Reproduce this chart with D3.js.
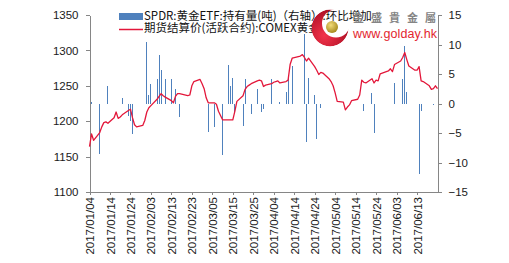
<!DOCTYPE html>
<html>
<head>
<meta charset="utf-8">
<script src="https://d3js.org/d3.v7.min.js"></script>
<style>
  body { margin: 0; background: #fff; }
  svg { display: block; }
  .axis text { font-family: "Liberation Sans", Arial, sans-serif; font-size: 11.5px; fill: #1a1a1a; }
  .axis path, .axis line { stroke: #868686; shape-rendering: crispEdges; }
  .legend text { font-family: "Noto Sans CJK SC", sans-serif; font-size: 11.5px; fill: #111; }
</style>
</head>
<body>
<script>
// gold futures settlement (left axis), trading days
var priceDates = [
  "2017/01/04","2017/01/05","2017/01/06","2017/01/09","2017/01/10","2017/01/11","2017/01/12","2017/01/13",
  "2017/01/16","2017/01/17","2017/01/18","2017/01/19","2017/01/20","2017/01/23","2017/01/24","2017/01/25",
  "2017/01/26","2017/01/27","2017/01/30","2017/01/31",
  "2017/02/01","2017/02/02","2017/02/03","2017/02/06","2017/02/07","2017/02/08","2017/02/09","2017/02/10",
  "2017/02/13","2017/02/14","2017/02/15","2017/02/16","2017/02/17","2017/02/21","2017/02/22","2017/02/23",
  "2017/02/24","2017/02/27","2017/02/28",
  "2017/03/01","2017/03/02","2017/03/03","2017/03/06","2017/03/07","2017/03/08","2017/03/09","2017/03/10",
  "2017/03/13","2017/03/14","2017/03/15","2017/03/16","2017/03/17","2017/03/20","2017/03/21","2017/03/22",
  "2017/03/23","2017/03/24","2017/03/27","2017/03/28","2017/03/29","2017/03/30","2017/03/31",
  "2017/04/03","2017/04/04","2017/04/05","2017/04/06","2017/04/07","2017/04/10","2017/04/11","2017/04/12",
  "2017/04/13","2017/04/17","2017/04/18","2017/04/19","2017/04/20","2017/04/21","2017/04/24","2017/04/25",
  "2017/04/26","2017/04/27","2017/04/28",
  "2017/05/01","2017/05/02","2017/05/03","2017/05/04","2017/05/05","2017/05/08","2017/05/09","2017/05/10",
  "2017/05/11","2017/05/12","2017/05/15","2017/05/16","2017/05/17","2017/05/18","2017/05/19","2017/05/22",
  "2017/05/23","2017/05/24","2017/05/25","2017/05/26","2017/05/30","2017/05/31",
  "2017/06/01","2017/06/02","2017/06/05","2017/06/06","2017/06/07","2017/06/08","2017/06/09","2017/06/12",
  "2017/06/13","2017/06/14","2017/06/15","2017/06/16","2017/06/19","2017/06/20","2017/06/21","2017/06/22",
  "2017/06/23"
];
var priceValues = [
  1164,1182,1173,1184,1192,1198,1199,1197,
  1205,1213,1204,1206,1209,1215,1217,1205,
  1195,1192,1194,1201,
  1213,1219,1222,1231,1235,1239,1236,1234,
  1229,1226,1235,1239,1239,1236,1237,1250,
  1256,1259,1253,
  1246,1233,1226,1226,1224,1214,1208,1202,
  1202,1202,1202,1214,1228,1236,1245,1249,
  1251,1253,1257,1258,1257,1249,1251,
  1253,1255,1256,1257,1254,1256,1258,1280,
  1289,1292,1294,1290,1285,1289,1277,1272,
  1266,1269,1268,
  1260,1256,1250,1240,1228,1227,1216,1220,
  1223,1229,1231,1237,1258,1255,1254,1260,
  1254,1258,1257,1267,1271,1274,
  1270,1280,1285,1290,1297,1287,1278,1272,
  1272,1277,1257,1256,1250,1245,1246,1250,
  1246
];

// SPDR holdings day-on-day change, tonnes (right axis)
var barDates = [
  "2017/01/05","2017/01/09","2017/01/13","2017/01/20","2017/01/23","2017/01/24","2017/01/25",
  "2017/02/01","2017/02/02","2017/02/03","2017/02/06","2017/02/07","2017/02/08","2017/02/10",
  "2017/02/13","2017/02/15","2017/02/17",
  "2017/03/03","2017/03/06","2017/03/10","2017/03/13","2017/03/14","2017/03/15","2017/03/16",
  "2017/03/20","2017/03/21","2017/03/24","2017/03/27","2017/03/29","2017/03/30",
  "2017/04/03","2017/04/07","2017/04/10","2017/04/11","2017/04/13","2017/04/19","2017/04/20",
  "2017/04/21","2017/04/24","2017/04/25","2017/04/27",
  "2017/05/18","2017/05/22","2017/05/23",
  "2017/06/02","2017/06/06","2017/06/07","2017/06/08","2017/06/14","2017/06/15","2017/06/21"
];
var barValues = [
  0.3,-8.5,2.9,0.9,-2.2,-3.0,-5.1,
  10.5,1.4,3.3,4.1,8.2,5.6,4.1,
  4.1,2.5,-2.3,
  -4.8,-3.9,-8.7,6.6,3.0,4.3,-1.6,
  -3.8,4.1,-1.7,2.5,-1.5,-1.0,
  4.2,0.2,2.0,4.3,6.4,11.8,-6.6,
  4.3,1.4,-6.1,-0.8,
  -1.2,1.7,-5.0,
  3.4,4.1,9.8,1.9,-12.0,-1.3,-0.3
];

var leftTicks = [1100, 1150, 1200, 1250, 1300, 1350];
var rightTicks = [-15, -10, -5, 0, 5, 10, 15];
var dateTicks = ["2017/01/04","2017/01/14","2017/01/24","2017/02/03","2017/02/13","2017/02/23",
                 "2017/03/05","2017/03/15","2017/03/25","2017/04/04","2017/04/14","2017/04/24",
                 "2017/05/04","2017/05/14","2017/05/24","2017/06/03","2017/06/13"];
var dateRange = ["2017/01/04", "2017/06/23"];
var seriesNames = ["SPDR:黄金ETF:持有量(吨)（右轴）:环比增加", "期货结算价(活跃合约):COMEX黄金"];

var width = 509, height = 263;
var plotLeft = 89.5, plotRight = 437.5, plotTop = 15, plotBottom = 192;
var barColor = "#4f81bd", lineColor = "#e3173a";

var parse = d3.utcParse("%Y/%m/%d");

var svg = d3.select("body").append("svg")
    .attr("width", width)
    .attr("height", height);

svg.append("rect").attr("width", width).attr("height", height).attr("fill", "#fff");

var x = d3.scaleUtc().domain(dateRange.map(parse)).range([plotLeft, plotRight]);
var yL = d3.scaleLinear().domain([1100, 1350]).range([plotBottom, plotTop]);
var yR = d3.scaleLinear().domain([-15, 15]).range([plotBottom, plotTop]);

/* bars first, line goes over them */
var bars = barDates.map(function (d, i) { return { date: parse(d), v: barValues[i] }; });
svg.append("g").selectAll("rect")
  .data(bars)
  .enter().append("rect")
    .attr("x", function (d) { return Math.round(x(d.date) - 0.5); })
    .attr("width", 1)
    .attr("y", function (d) { return yR(Math.max(0, d.v)); })
    .attr("height", function (d) { return Math.abs(yR(d.v) - yR(0)); })
    .attr("fill", barColor)
    .attr("shape-rendering", "crispEdges");

/* axes */
svg.append("g").attr("class", "axis")
    .attr("transform", "translate(" + plotLeft + ",0)")
    .call(d3.axisLeft(yL).tickValues(leftTicks).tickSize(4).tickPadding(7).tickSizeOuter(0)
      .tickFormat(d3.format("d")));

svg.append("g").attr("class", "axis")
    .attr("transform", "translate(" + plotRight + ",0)")
    .call(d3.axisRight(yR).tickValues(rightTicks).tickSize(4).tickPadding(7).tickSizeOuter(0)
      .tickFormat(d3.format("d")));

var gB = svg.append("g").attr("class", "axis")
    .attr("transform", "translate(0," + plotBottom + ")")
    .call(d3.axisBottom(x).tickValues(dateTicks.map(parse)).tickSize(3).tickSizeOuter(0)
      .tickFormat(d3.utcFormat("%Y/%m/%d")));

gB.selectAll("text")
    .attr("transform", "rotate(-90)")
    .attr("x", -5)
    .attr("y", 0)
    .attr("dy", "0.35em")
    .style("text-anchor", "end");

/* price line */
var prices = priceDates.map(function (d, i) { return { date: parse(d), v: priceValues[i] }; });
var line = d3.line()
    .x(function (d) { return x(d.date); })
    .y(function (d) { return yL(d.v); });

svg.append("path")
    .datum(prices)
    .attr("d", line)
    .attr("fill", "none")
    .attr("stroke", lineColor)
    .attr("stroke-width", 1.3)
    .attr("stroke-linejoin", "round");

/* legend */
var lg = svg.append("g").attr("class", "legend");
lg.append("rect").attr("x", 119).attr("y", 13).attr("width", 24).attr("height", 7).attr("fill", barColor);
lg.append("text").attr("x", 144).attr("y", 15.5).attr("dy", "0.36em").text(seriesNames[0]);
lg.append("line").attr("x1", 119).attr("x2", 143).attr("y1", 29.5).attr("y2", 29.5)
    .attr("stroke", lineColor).attr("stroke-width", 1.5);
lg.append("text").attr("x", 144).attr("y", 27.5).attr("dy", "0.36em").text(seriesNames[1]);

/* watermark logo */
var defs = svg.append("defs");
var rg = defs.append("radialGradient").attr("id", "redg").attr("cx", "35%").attr("cy", "70%").attr("r", "75%");
rg.append("stop").attr("offset", "0%").attr("stop-color", "#f2344a");
rg.append("stop").attr("offset", "100%").attr("stop-color", "#a80c22");
var gg = defs.append("radialGradient").attr("id", "goldg").attr("cx", "40%").attr("cy", "35%").attr("r", "70%");
gg.append("stop").attr("offset", "0%").attr("stop-color", "#f3dc7a");
gg.append("stop").attr("offset", "100%").attr("stop-color", "#a08418");
var mask = defs.append("mask").attr("id", "cres")
    .attr("maskUnits", "userSpaceOnUse").attr("x", 300).attr("y", 0).attr("width", 60).attr("height", 60);
mask.append("circle").attr("cx", 330).attr("cy", 28).attr("r", 18.5).attr("fill", "#fff");
mask.append("circle").attr("cx", 336).attr("cy", 23.5).attr("r", 14).attr("fill", "#000");

var logo = svg.append("g");
logo.append("circle").attr("cx", 330).attr("cy", 28).attr("r", 18.5)
    .attr("fill", "url(#redg)").attr("mask", "url(#cres)");
logo.append("circle").attr("cx", 332).attr("cy", 27).attr("r", 6).attr("fill", "url(#goldg)");
logo.append("text").attr("x", 353).attr("y", 22)
    .style("font-family", "'Noto Sans CJK TC', sans-serif")
    .style("font-size", "11px").style("font-weight", "bold")
    .style("letter-spacing", "7px").attr("fill", "#858585")
    .text("金盛貴金屬");
logo.append("text").attr("x", 353).attr("y", 37.5)
    .style("font-family", "'Liberation Sans', Arial, sans-serif")
    .style("font-size", "12.5px").attr("fill", "#e3262e")
    .attr("textLength", 84)
    .text("www.golday.hk");
</script>
</body>
</html>
